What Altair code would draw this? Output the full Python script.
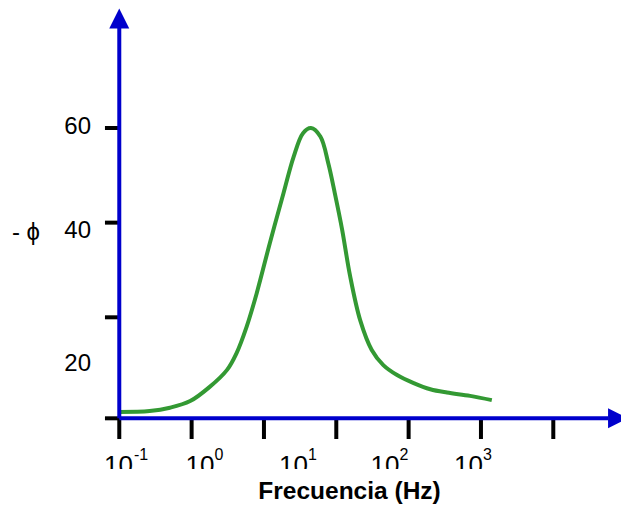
import altair as alt
import pandas as pd

# ---- curve (x = log10 of frequency in Hz, y = -phase in degrees) ----
log_freq = [-1.0, -0.58, -0.30, -0.02, 0.25, 0.49, 0.62, 0.76, 0.90, 1.08, 1.27, 1.41, 1.54, 1.65,
            1.78, 1.89, 1.98, 2.08, 2.19, 2.33, 2.49, 2.65, 2.84, 3.07, 3.30, 3.53, 3.85, 4.15]
neg_phase = [0.0, 0.2, 0.9, 2.3, 5.3, 8.9, 12.4, 18.0, 25.1, 35.6, 46.2, 53.9, 58.9, 60.0,
             58.2, 52.5, 46.2, 38.6, 28.8, 19.4, 13.1, 9.9, 7.8, 6.1, 4.8, 4.1, 3.4, 2.5]

# ---- axes (schematic) ----
x_tick_decades = [-1, 0, 1, 2, 3, 4, 5]
y_tick_values = [60, 40, 20]
y_label_text = ["60", "40", "20"]
y_label_at = [58.7, 36.8, 8.7]
x_label_exponent = ["-1", "0", "1", "2", "3"]
x_label_at = [-1.2115, -0.0847, 1.208, 2.473, 3.627]
x_sup_at = [-0.7968, 0.3162, 1.609, 2.874, 4.028]
x_title = "Frecuencia (Hz)"
y_title = "- ϕ"

BLUE = "#0000cc"
GREEN = "#339933"
FONT = "Liberation Sans"

xs = alt.Scale(domain=[-2.649, 5.936], nice=False, zero=False)
ys = alt.Scale(domain=[-20.5, 87.04], nice=False, zero=False)

AXIS_Y = -1.34     # level of the horizontal axis
AXIS_X = -1.0      # position of the vertical axis

def X(f="x", **k):
    return alt.X(f, type="quantitative", scale=xs, axis=None, **k)

def Y(f="y", **k):
    return alt.Y(f, type="quantitative", scale=ys, axis=None, **k)

curve_df = pd.DataFrame({"x": log_freq, "y": neg_phase})
curve = alt.Chart(curve_df).mark_line(color=GREEN, strokeWidth=4, interpolate="catmull-rom").encode(
    x=X(), y=Y(), order=alt.Order("x:Q"))

axes_df = pd.DataFrame({"x": [AXIS_X, AXIS_X], "x2": [AXIS_X, 5.757],
                        "y": [AXIS_Y, AXIS_Y], "y2": [81.1, AXIS_Y]})
axes = alt.Chart(axes_df).mark_rule(color=BLUE, strokeWidth=4).encode(
    x=X(), x2="x2:Q", y=Y(), y2="y2:Q")

ytick_df = pd.DataFrame({"y": y_tick_values + [AXIS_Y]})
ytick_df["x"] = -1.198
ytick_df["x2"] = AXIS_X
yticks = alt.Chart(ytick_df).mark_rule(color="black", strokeWidth=4).encode(
    x=X(), x2="x2:Q", y=Y())

xtick_df = pd.DataFrame({"x": x_tick_decades})
xtick_df["y"] = AXIS_Y
xtick_df["y2"] = -5.71
xticks = alt.Chart(xtick_df).mark_rule(color="black", strokeWidth=4).encode(
    x=X(), y=Y(), y2="y2:Q")

arrow_up_df = pd.DataFrame({"x": [AXIS_X], "y": [83.14]})
arrow_up = alt.Chart(arrow_up_df).mark_point(
    shape="M0,-1L1,1L-1,1Z", filled=True, size=400, color=BLUE, opacity=1, strokeWidth=0
).encode(x=X(), y=Y())

arrow_right_df = pd.DataFrame({"x": [5.895], "y": [AXIS_Y]})
arrow_right = alt.Chart(arrow_right_df).mark_point(
    shape="M-1,-1L1,0L-1,1Z", filled=True, size=400, color=BLUE, opacity=1, strokeWidth=0
).encode(x=X(), y=Y())

ylab_df = pd.DataFrame({"t": y_label_text, "y": y_label_at})
ylab_df["x"] = -1.391
ylabels = alt.Chart(ylab_df).mark_text(
    align="right", baseline="alphabetic", fontSize=24, font=FONT, color="black"
).encode(x=X(), y=Y(), text="t:N")

xlab_df = pd.DataFrame({"t": ["10"] * len(x_label_at), "x": x_label_at})
xlab_df["y"] = -13.02
xlabels = alt.Chart(xlab_df).mark_text(
    align="left", baseline="alphabetic", fontSize=26, font=FONT, color="black"
).encode(x=X(), y=Y(), text="t:N")

xsup_df = pd.DataFrame({"t": x_label_exponent, "x": x_sup_at})
xsup_df["y"] = -10.25
xsups = alt.Chart(xsup_df).mark_text(
    align="left", baseline="alphabetic", fontSize=16, font=FONT, color="black"
).encode(x=X(), y=Y(), text="t:N")

clip_df = pd.DataFrame({"x": [-1.33], "x2": [4.25], "y": [-12.05], "y2": [-13.95]})
clip = alt.Chart(clip_df).mark_rect(color="white").encode(
    x=X(), x2="x2:Q", y=Y(), y2="y2:Q")

xt_df = pd.DataFrame({"t": [x_title], "x": [2.183], "y": [-18.39]})
xtitle = alt.Chart(xt_df).mark_text(
    align="center", baseline="alphabetic", fontSize=24.5, fontWeight="bold", font=FONT, color="black"
).encode(x=X(), y=Y(), text="t:N")

yt_df = pd.DataFrame({"t": [y_title], "x": [-2.484], "y": [36.34]})
ytitle = alt.Chart(yt_df).mark_text(
    align="left", baseline="alphabetic", fontSize=24, font=FONT, color="black"
).encode(x=X(), y=Y(), text="t:N")

chart = alt.layer(
    curve, yticks, xticks, axes, arrow_up, arrow_right,
    ylabels, xlabels, xsups, clip, xtitle, ytitle
).properties(
    width=621, height=509, padding=0,
    autosize=alt.AutoSizeParams(type="none", contains="padding"),
    background="white"
).configure_view(stroke=None)

chart.save("out.html", embed_options={"renderer": "svg", "actions": False})
